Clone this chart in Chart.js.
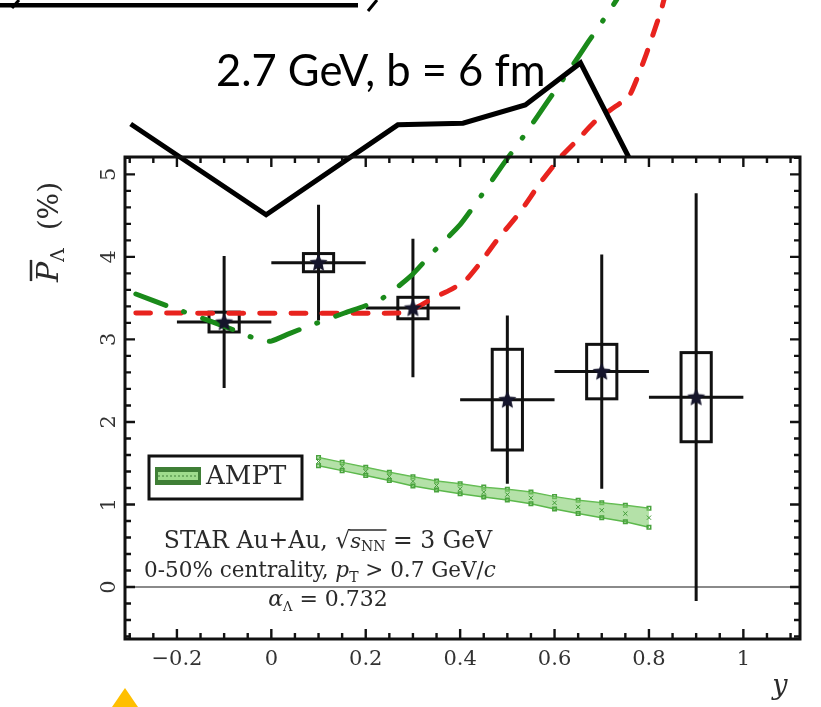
<!DOCTYPE html>
<html>
<head>
<meta charset="utf-8">
<script src="https://cdn.jsdelivr.net/npm/chart.js@4.4.1/dist/chart.umd.min.js"></script>
<style>
  html, body { margin: 0; padding: 0; background: #fff; }
  #wrap { width: 821px; height: 707px; }
</style>
</head>
<body>
<div id="wrap"><canvas id="myChart" width="821" height="707"></canvas></div>
<script>
// STAR Au+Au 3 GeV, Lambda polarization vs rapidity
const rapidity = [-0.1, 0.1, 0.3, 0.5, 0.7, 0.9];
const polar = [3.21, 3.93, 3.38, 2.27, 2.61, 2.30];
const statErr = [0.80, 0.70, 0.84, 1.02, 1.42, 2.47];
const sysErr = [0.12, 0.11, 0.13, 0.61, 0.33, 0.54];
const binHalf = [0.1, 0.1, 0.1, 0.1, 0.1, 0.1];

// AMPT band
const amptX = [0.1, 0.15, 0.2, 0.25, 0.3, 0.35, 0.4, 0.45, 0.5, 0.55, 0.6, 0.65, 0.7, 0.75, 0.8];
const amptY = [1.52, 1.46, 1.40, 1.34, 1.28, 1.23, 1.19, 1.15, 1.12, 1.08, 1.02, 0.97, 0.93, 0.89, 0.84];
const amptErr = [0.05, 0.05, 0.05, 0.05, 0.055, 0.055, 0.06, 0.06, 0.065, 0.07, 0.075, 0.08, 0.09, 0.10, 0.115];

// 2.7 GeV, b = 6 fm curves
const blackX = [-0.298, -0.011, 0.268, 0.406, 0.538, 0.655, 0.757];
const blackY = [5.61, 4.51, 5.60, 5.62, 5.84, 6.35, 5.21];
const greenX = [-0.287, -0.213, -0.138, -0.064, -0.021, 0.0, 0.038, 0.074, 0.155, 0.230, 0.294, 0.343, 0.400, 0.447, 0.491, 0.538, 0.585, 0.630, 0.672, 0.713, 0.732];
const greenY = [3.55, 3.39, 3.24, 3.08, 2.98, 2.98, 3.07, 3.15, 3.32, 3.48, 3.76, 4.06, 4.39, 4.76, 5.12, 5.49, 5.88, 6.25, 6.61, 6.95, 7.12];
const redX = [-0.287, 0.272, 0.309, 0.343, 0.379, 0.411, 0.443, 0.479, 0.528, 0.570, 0.613, 0.649, 0.691, 0.757, 0.774, 0.794, 0.809, 0.826, 0.832];
const redY = [3.32, 3.32, 3.39, 3.50, 3.60, 3.71, 3.93, 4.21, 4.55, 4.90, 5.21, 5.42, 5.67, 5.94, 6.15, 6.45, 6.70, 6.99, 7.12];

// axes
const xTicks = [-0.2, 0, 0.2, 0.4, 0.6, 0.8, 1];
const yTicks = [0, 1, 2, 3, 4, 5];
const xMinor = 0.05;
const yMinor = 0.2;

const serif = '"DejaVu Serif", "Liberation Serif", serif';

function pts(xs, ys) {
  return xs.map((x, i) => ({ x: x, y: ys[i] }));
}

// filled star marker
const starImg = (() => {
  const c = document.createElement("canvas");
  c.width = 21; c.height = 21;
  const g = c.getContext("2d");
  g.fillStyle = "#15152b";
  g.beginPath();
  for (let i = 0; i < 10; i++) {
    const r = i % 2 ? 4.4 : 9.5;
    const a = -Math.PI / 2 + i * Math.PI / 5;
    g.lineTo(10.5 + r * Math.cos(a), 11 + r * Math.sin(a));
  }
  g.closePath();
  g.fill();
  return c;
})();

// draws a run of text pieces side by side, returns their positions
function richText(ctx, parts, x, y, align) {
  let w = 0;
  parts.forEach((p) => {
    ctx.font = p.f;
    p.w = ctx.measureText(p.t).width;
    w += p.w;
  });
  let cx = align === "center" ? x - w / 2 : x;
  ctx.textAlign = "left";
  parts.forEach((p) => {
    ctx.font = p.f;
    ctx.fillText(p.t, cx, y + (p.dy || 0));
    p.x = cx;
    cx += p.w;
  });
  return parts;
}

const decor = {
  id: "decor",
  beforeDatasetsDraw(chart) {
    const { ctx, chartArea: a, scales } = chart;
    const sx = scales.x, sy = scales.y;
    ctx.save();
    // zero line
    ctx.strokeStyle = "#8a8a8a";
    ctx.lineWidth = 2;
    const y0 = sy.getPixelForValue(0);
    ctx.beginPath();
    ctx.moveTo(a.left, y0);
    ctx.lineTo(a.right, y0);
    ctx.stroke();

    // error bars and systematic boxes
    ctx.strokeStyle = "#111";
    ctx.lineWidth = 3;
    const boxHalf = 0.032;
    rapidity.forEach((x, i) => {
      const px = sx.getPixelForValue(x);
      const py = sy.getPixelForValue(polar[i]);
      ctx.beginPath();
      ctx.moveTo(px, sy.getPixelForValue(polar[i] + statErr[i]));
      ctx.lineTo(px, sy.getPixelForValue(polar[i] - statErr[i]));
      ctx.moveTo(sx.getPixelForValue(x - binHalf[i]), py);
      ctx.lineTo(sx.getPixelForValue(x + binHalf[i]), py);
      ctx.stroke();
      const l = sx.getPixelForValue(x - boxHalf);
      const r = sx.getPixelForValue(x + boxHalf);
      const t = sy.getPixelForValue(polar[i] + sysErr[i]);
      const b = sy.getPixelForValue(polar[i] - sysErr[i]);
      ctx.strokeRect(l, t, r - l, b - t);
    });
    ctx.restore();
  },
  afterDatasetsDraw(chart) {
    const { ctx, chartArea: a, scales } = chart;
    const sx = scales.x, sy = scales.y;
    ctx.save();

    // frame
    ctx.strokeStyle = "#111";
    ctx.lineWidth = 3;
    ctx.strokeRect(a.left, a.top, a.right - a.left, a.bottom - a.top);

    // inward ticks on all four sides
    ctx.lineWidth = 2.4;
    ctx.beginPath();
    for (let v = Math.ceil(sx.min / xMinor) * xMinor; v <= sx.max + 1e-9; v += xMinor) {
      const major = Math.abs(v / 0.2 - Math.round(v / 0.2)) < 1e-6;
      const len = major ? 10 : 6;
      const px = sx.getPixelForValue(v);
      ctx.moveTo(px, a.bottom); ctx.lineTo(px, a.bottom - len);
      ctx.moveTo(px, a.top); ctx.lineTo(px, a.top + len);
    }
    for (let v = Math.ceil(sy.min / yMinor) * yMinor; v <= sy.max + 1e-9; v += yMinor) {
      const major = Math.abs(v - Math.round(v)) < 1e-6;
      const len = major ? 10 : 6;
      const py = sy.getPixelForValue(v);
      ctx.moveTo(a.left, py); ctx.lineTo(a.left + len, py);
      ctx.moveTo(a.right, py); ctx.lineTo(a.right - len, py);
    }
    ctx.stroke();

    // y tick labels, rotated
    ctx.fillStyle = "#333";
    ctx.font = "21px " + serif;
    ctx.textAlign = "center";
    ctx.textBaseline = "middle";
    sy.ticks.forEach((t) => {
      ctx.save();
      ctx.translate(a.left - 15, sy.getPixelForValue(t.value));
      ctx.rotate(-Math.PI / 2);
      ctx.fillText(t.label, 0, 0);
      ctx.restore();
    });

    // y axis title
    ctx.textBaseline = "alphabetic";
    ctx.fillStyle = "#2a2a2a";
    ctx.save();
    ctx.translate(58, 232);
    ctx.rotate(-Math.PI / 2);
    const yt = richText(ctx, [
      { t: "P", f: "italic 30px " + serif },
      { t: "Λ", f: "19px " + serif, dy: 6 },
      { t: "  (%)", f: "28px " + serif }
    ], 0, 0, "center");
    ctx.strokeStyle = "#2a2a2a";
    ctx.lineWidth = 2.5;
    ctx.beginPath();
    ctx.moveTo(yt[0].x + 1, -27);
    ctx.lineTo(yt[0].x + yt[0].w + 2, -27);
    ctx.stroke();
    ctx.restore();

    // x axis title
    ctx.font = "italic 27px " + serif;
    ctx.textAlign = "center";
    ctx.fillText("y", 780, 694);

    // legend
    ctx.strokeStyle = "#111";
    ctx.lineWidth = 3;
    ctx.strokeRect(149, 456, 153, 43);
    ctx.fillStyle = "#3f7f36";
    ctx.fillRect(155, 467, 46, 18);
    ctx.fillStyle = "#9fdc8c";
    ctx.fillRect(158, 472, 40, 8);
    ctx.strokeStyle = "#3f7f36";
    ctx.lineWidth = 1;
    ctx.setLineDash([2, 2]);
    ctx.beginPath();
    ctx.moveTo(158, 476); ctx.lineTo(198, 476);
    ctx.stroke();
    ctx.setLineDash([]);
    ctx.fillStyle = "#2a2a2a";
    ctx.font = "26px " + serif;
    ctx.textAlign = "left";
    ctx.fillText("AMPT", 206, 484);

    // annotations
    ctx.fillStyle = "#2a2a2a";
    const l1 = richText(ctx, [
      { t: "STAR Au+Au, ", f: "23.5px " + serif },
      { t: "√", f: "23.5px " + serif },
      { t: "s", f: "italic 21px " + serif },
      { t: "NN", f: "14px " + serif, dy: 3 },
      { t: " = 3 GeV", f: "23.5px " + serif }
    ], 328, 548, "center");
    ctx.strokeStyle = "#2a2a2a";
    ctx.lineWidth = 1.6;
    ctx.beginPath();
    ctx.moveTo(l1[1].x + l1[1].w - 1, 530);
    ctx.lineTo(l1[3].x + l1[3].w + 1, 530);
    ctx.stroke();

    richText(ctx, [
      { t: "0-50% centrality, ", f: "21.5px " + serif },
      { t: "p", f: "italic 21.5px " + serif },
      { t: "T", f: "14px " + serif, dy: 5 },
      { t: " > 0.7 GeV/", f: "21.5px " + serif },
      { t: "c", f: "italic 21.5px " + serif }
    ], 320, 577, "center");

    richText(ctx, [
      { t: "α", f: "italic 22px " + serif },
      { t: "Λ", f: "13px " + serif, dy: 5 },
      { t: " = 0.732", f: "22px " + serif }
    ], 328, 606, "center");

    // heading over the plot
    ctx.fillStyle = "#000";
    ctx.font = "43.5px Lato, sans-serif";
    ctx.fillText("2.7 GeV, b = 6 fm", 216, 86);

    // page remnants at the top edge
    ctx.fillRect(0, 3, 358, 4.5);
    ctx.strokeStyle = "#000";
    ctx.lineWidth = 3;
    ctx.beginPath();
    ctx.moveTo(19, 0); ctx.lineTo(12, 8);
    ctx.moveTo(377, 0); ctx.lineTo(368, 11);
    ctx.stroke();

    // marker at the bottom edge
    ctx.fillStyle = "#ffbf00";
    ctx.beginPath();
    ctx.moveTo(125, 688);
    ctx.lineTo(138, 707);
    ctx.lineTo(112, 707);
    ctx.closePath();
    ctx.fill();

    ctx.restore();
  }
};

const data = {
  datasets: [
    {
      label: "STAR",
      data: pts(rapidity, polar),
      pointStyle: starImg,
      showLine: false,
      order: 0
    },
    {
      label: "2.7 GeV black",
      data: pts(blackX, blackY),
      type: "line",
      borderColor: "#000",
      borderWidth: 5,
      pointRadius: 0,
      tension: 0,
      clip: false,
      order: 1
    },
    {
      label: "2.7 GeV green",
      data: pts(greenX, greenY),
      type: "line",
      borderColor: "#1a8a1a",
      borderWidth: 5,
      borderDash: [32, 19, 1, 19],
      borderCapStyle: "round",
      pointRadius: 0,
      tension: 0.2,
      clip: false,
      order: 2
    },
    {
      label: "2.7 GeV red",
      data: pts(redX, redY),
      type: "line",
      borderColor: "#e8231e",
      borderWidth: 5,
      borderDash: [15, 16],
      borderCapStyle: "round",
      pointRadius: 0,
      tension: 0.15,
      clip: false,
      order: 3
    },
    {
      label: "AMPT upper",
      data: amptX.map((x, i) => ({ x: x, y: amptY[i] + amptErr[i] })),
      type: "line",
      borderColor: "#5cb84c",
      borderWidth: 1.5,
      pointStyle: "rect",
      pointRadius: 2.5,
      pointBorderColor: "#4aa33e",
      pointBackgroundColor: "rgba(0,0,0,0)",
      fill: false,
      order: 6
    },
    {
      label: "AMPT lower",
      data: amptX.map((x, i) => ({ x: x, y: amptY[i] - amptErr[i] })),
      type: "line",
      borderColor: "#5cb84c",
      borderWidth: 1.5,
      backgroundColor: "rgba(130, 205, 110, 0.6)",
      pointStyle: "rect",
      pointRadius: 2.5,
      pointBorderColor: "#4aa33e",
      pointBackgroundColor: "rgba(0,0,0,0)",
      fill: "-1",
      order: 5
    },
    {
      label: "AMPT",
      data: pts(amptX, amptY),
      pointStyle: "crossRot",
      pointRadius: 3,
      borderColor: "#3f9a35",
      borderWidth: 1,
      showLine: false,
      order: 4
    }
  ]
};

const config = {
  type: "scatter",
  data: data,
  plugins: [decor],
  options: {
    responsive: false,
    animation: false,
    devicePixelRatio: 1,
    layout: { padding: { left: 0, top: 157, right: 21, bottom: 0 } },
    plugins: {
      legend: { display: false },
      tooltip: { enabled: false }
    },
    scales: {
      x: {
        type: "linear",
        min: -0.31,
        max: 1.12,
        afterBuildTicks: (s) => { s.ticks = xTicks.map((v) => ({ value: v })); },
        afterFit: (s) => { s.height = 68; },
        grid: { display: false, drawTicks: false },
        border: { display: false },
        ticks: {
          padding: 8,
          color: "#333",
          font: { family: serif, size: 21 },
          callback: (v) => (v < 0 ? "\u2212" : "") + String(Math.abs(Math.round(v * 10) / 10))
        }
      },
      y: {
        type: "linear",
        min: -0.63,
        max: 5.21,
        afterBuildTicks: (s) => { s.ticks = yTicks.map((v) => ({ value: v })); },
        afterFit: (s) => { s.width = 125; },
        grid: { display: false, drawTicks: false },
        border: { display: false },
        ticks: { display: false, callback: (v) => String(v) }
      }
    }
  }
};

const myChart = new Chart(document.getElementById("myChart"), config);
</script>
</body>
</html>
